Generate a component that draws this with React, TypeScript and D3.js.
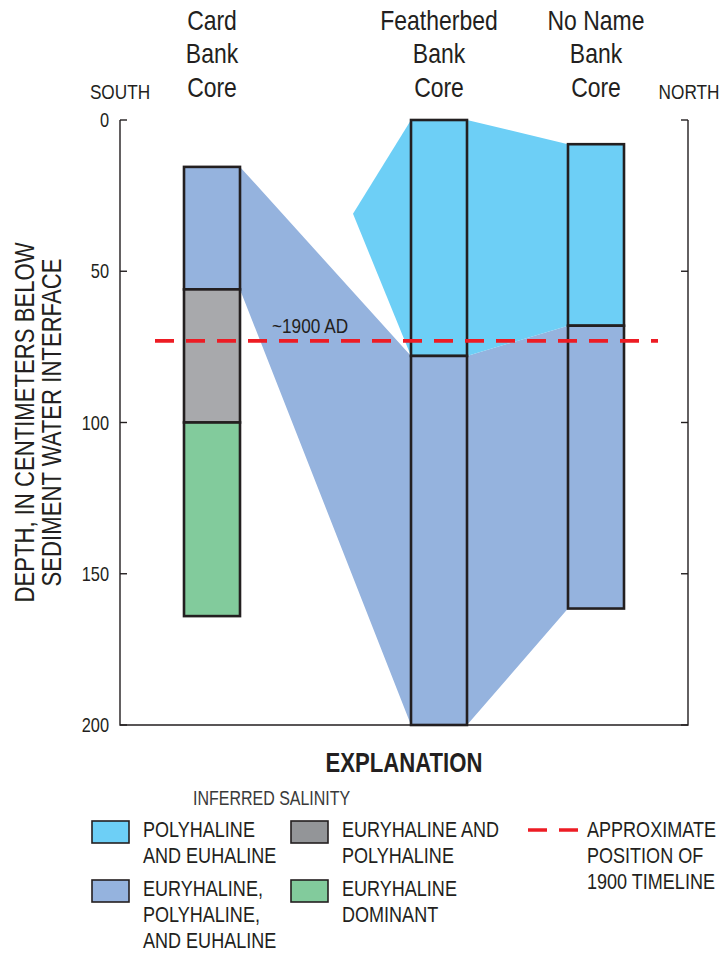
import React, { useEffect, useRef } from 'react';
import * as d3 from 'd3';

// transect position (arbitrary units along the south-north section) and depth in cm
const xDomain: [number, number] = [0, 568];
const depthTicks = [0, 50, 100, 150, 200];
const timelineDepth = 73;
const timelineExtent: [number, number] = [35, 538];

type Zone = 'polyEu' | 'mixed' | 'euryPoly' | 'eury';

const zoneColors: Record<Zone, string> = {
  polyEu: '#6dcff6',
  mixed: '#95b3de',
  euryPoly: '#a8a9ac',
  eury: '#82cb9c',
};

const coreNames = ['Card\nBank\nCore', 'Featherbed\nBank\nCore', 'No Name\nBank\nCore'];
const coreLeft = [64, 291, 448];
const coreWidth = 56;
const cardSegments: [number, number, Zone][] = [
  [15.5, 56, 'mixed'],
  [56, 100, 'euryPoly'],
  [100, 164, 'eury'],
];
const featherbedSegments: [number, number, Zone][] = [
  [0, 78, 'polyEu'],
  [78, 200, 'mixed'],
];
const noNameSegments: [number, number, Zone][] = [
  [8, 68, 'polyEu'],
  [68, 161.5, 'mixed'],
];
const coreSegments = [cardSegments, featherbedSegments, noNameSegments];

// correlation bands between cores: [x, depth]
const polyEuBand: [number, number][] = [
  [233, 31], [291, 0], [347, 0], [448, 8], [448, 68], [347, 78], [291, 78],
];
const mixedBand: [number, number][] = [
  [120, 15.5], [291, 78], [347, 78], [448, 68], [448, 161.5], [347, 200], [291, 200], [120, 56],
];

const legendItems: { zone: Zone | 'line'; lines: string[]; col: number; row: number }[] = [
  { zone: 'polyEu', lines: ['POLYHALINE', 'AND EUHALINE'], col: 0, row: 0 },
  { zone: 'mixed', lines: ['EURYHALINE,', 'POLYHALINE,', 'AND EUHALINE'], col: 0, row: 1 },
  { zone: 'euryPoly', lines: ['EURYHALINE AND', 'POLYHALINE'], col: 1, row: 0 },
  { zone: 'eury', lines: ['EURYHALINE', 'DOMINANT'], col: 1, row: 1 },
  { zone: 'line', lines: ['APPROXIMATE', 'POSITION OF', '1900 TIMELINE'], col: 2, row: 0 },
];

const FONT = "'Liberation Sans', Arial, sans-serif";
const INK = '#231f20';
const RED = '#ed1c24';
const NARROW = 0.82; // squeeze Liberation Sans to a condensed face

type Sel = d3.Selection<any, unknown, null, undefined>;

// multi-line condensed text; x,y is the anchor of the first baseline
function label(parent: Sel, x: number, y: number, lines: string[], size: number,
  opts: { anchor?: string; leading?: number; weight?: string; fill?: string; rotate?: number } = {}) {
  const g = parent.append('g')
    .attr('transform', `translate(${x},${y})${opts.rotate ? ` rotate(${opts.rotate})` : ''} scale(${NARROW},1)`);
  const t = g.append('text')
    .attr('text-anchor', opts.anchor || 'start')
    .attr('font-size', size)
    .attr('font-weight', opts.weight || 'normal')
    .attr('fill', opts.fill || INK);
  lines.forEach((ln, j) => {
    t.append('tspan').attr('x', 0).attr('y', j * (opts.leading || size)).text(ln);
  });
  return g;
}

const App: React.FC = () => {
  const svgRef = useRef<SVGSVGElement>(null);

  useEffect(() => {
    if (!svgRef.current) return;
    const svg = d3.select(svgRef.current) as unknown as Sel;
    svg.selectAll('*').remove();

    const left = 120, right = 688, top = 120, bottom = 725;
    const x = d3.scaleLinear().domain(xDomain).range([left, right]);
    const y = d3.scaleLinear().domain([0, 200]).range([top, bottom]);

    const area = d3.line<[number, number]>().x(d => x(d[0])).y(d => y(d[1]));

    // bands
    svg.append('path').attr('d', area(mixedBand) + 'Z').attr('fill', zoneColors.mixed);
    svg.append('path').attr('d', area(polyEuBand) + 'Z').attr('fill', zoneColors.polyEu);

    // cores
    coreSegments.forEach((segs, i) => {
      const g = svg.append('g');
      segs.forEach(([d0, d1, z]) => {
        g.append('rect')
          .attr('x', x(coreLeft[i]))
          .attr('y', y(d0))
          .attr('width', x(coreLeft[i] + coreWidth) - x(coreLeft[i]))
          .attr('height', y(d1) - y(d0))
          .attr('fill', zoneColors[z])
          .attr('stroke', INK)
          .attr('stroke-width', 2.6);
      });
    });

    // axes
    const axis = svg.append('g').attr('stroke', INK).attr('stroke-width', 1.4).attr('fill', 'none');
    axis.append('path').attr('d', `M${left},${top}V${bottom}H${right}V${top}`);
    depthTicks.forEach(t => {
      axis.append('line').attr('x1', left).attr('x2', left + 7).attr('y1', y(t)).attr('y2', y(t));
      axis.append('line').attr('x1', right).attr('x2', right - 7).attr('y1', y(t)).attr('y2', y(t));
      label(svg, left - 11, y(t) + 7, [String(t)], 20, { anchor: 'end' });
    });

    // 1900 timeline
    svg.append('line')
      .attr('x1', x(timelineExtent[0])).attr('x2', x(timelineExtent[1]))
      .attr('y1', y(timelineDepth)).attr('y2', y(timelineDepth))
      .attr('stroke', RED).attr('stroke-width', 3.6)
      .attr('stroke-dasharray', '19 12');
    label(svg, 272, y(timelineDepth) - 8, ['~1900 AD'], 21);

    // core titles
    coreNames.forEach((name, i) => {
      label(svg, x(coreLeft[i] + coreWidth / 2), 30, name.split('\n'), 28, { anchor: 'middle', leading: 33.5 });
    });
    label(svg, left, 99, ['SOUTH'], 21, { anchor: 'middle' });
    label(svg, right + 1, 99, ['NORTH'], 21, { anchor: 'middle' });

    // y title
    label(svg, 34, (top + bottom) / 2, ['DEPTH, IN CENTIMETERS BELOW', 'SEDIMENT WATER INTERFACE'], 27,
      { anchor: 'middle', leading: 27, rotate: -90 });

    // explanation
    label(svg, 404, 772, ['EXPLANATION'], 27, { anchor: 'middle', weight: 'bold' });
    label(svg, 193, 805, ['INFERRED SALINITY'], 19.5, { fill: '#3a3a3a' });

    const colX = [92, 291, 528];
    const rowY = [821, 880];
    const legend = svg.append('g');
    legendItems.forEach(item => {
      const sx = colX[item.col];
      const sy = rowY[item.row];
      if (item.zone === 'line') {
        legend.append('line')
          .attr('x1', sx).attr('x2', sx + 50).attr('y1', sy + 9).attr('y2', sy + 9)
          .attr('stroke', RED).attr('stroke-width', 3.6).attr('stroke-dasharray', '19 12');
      } else {
        legend.append('rect')
          .attr('x', sx).attr('y', sy).attr('width', 37).attr('height', 22)
          .attr('fill', item.zone === 'euryPoly' ? '#939598' : zoneColors[item.zone])
          .attr('stroke', INK).attr('stroke-width', 1.6);
      }
      const tx = item.zone === 'line' ? sx + 59 : sx + 51;
      label(legend, tx, sy + 16, item.lines, 22, { leading: 26 });
    });
  }, []);

  return (
    <div style={{ position: 'absolute', left: 0, top: 0 }}>
      <svg ref={svgRef} width={720} height={953} style={{ fontFamily: FONT, display: 'block' }} />
    </div>
  );
};

export default App;
